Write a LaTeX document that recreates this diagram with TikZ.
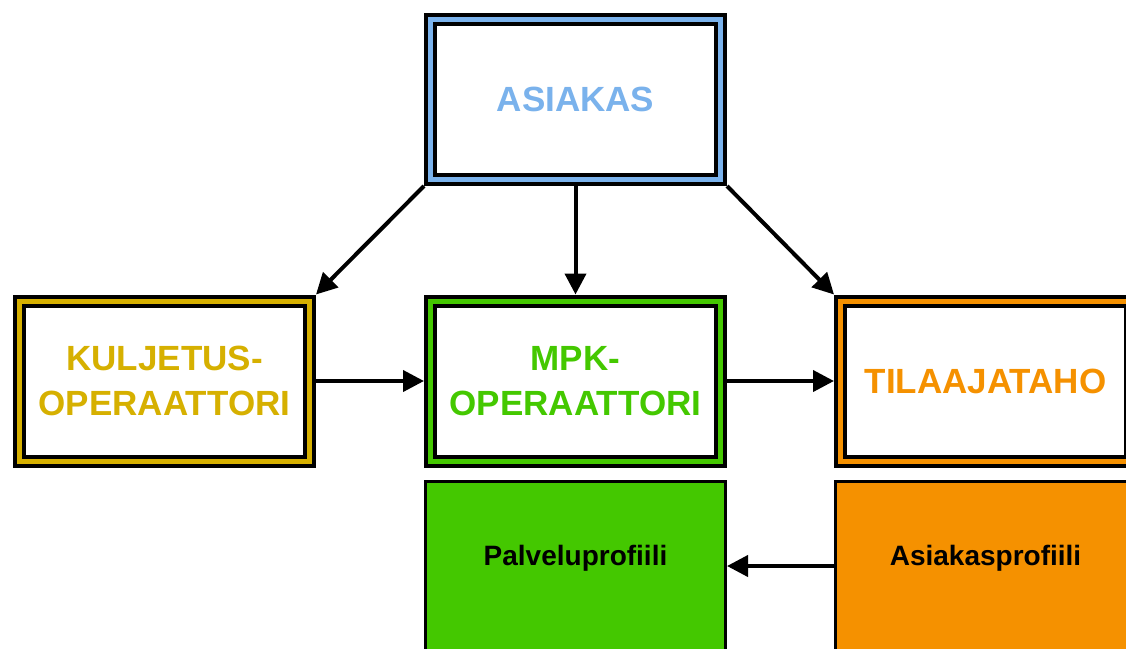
\documentclass[tikz,border=0pt]{standalone}
\usepackage{fontspec}
\setmainfont{Liberation Sans}
\usetikzlibrary{positioning,arrows.meta}
\definecolor{asiakasblue}{RGB}{122,178,236}
\definecolor{kuljgold}{RGB}{214,176,0}
\definecolor{mpkgreen}{RGB}{68,200,0}
\definecolor{tilorange}{RGB}{245,145,0}
\begin{document}
\begin{tikzpicture}[x=1pt,y=-1pt,
  mainbox/.style={draw=black, line width=4pt, double=#1, double distance=5pt, fill=white,
    minimum width=290pt, minimum height=160pt, inner sep=0pt,
    outer sep=6.5pt, text=#1, align=center, font=\bfseries\fontsize{35}{45}\selectfont},
  profilebox/.style={draw=black, line width=3pt, fill=#1,
    minimum width=300pt, minimum height=185pt, inner sep=0pt, outer sep=1.5pt},
  profiletext/.style={font=\bfseries\fontsize{28}{34}\selectfont},
  flow/.style={line width=4pt, -{Triangle[length=21pt,width=21pt]}}]
  \clip (0,0) rectangle (1126,648);
  \fill[white] (0,0) rectangle (1126,648);
  % top and middle row
  \node[mainbox=asiakasblue] (asiakas) at (575.5,99.5) {ASIAKAS};
  \node[mainbox=kuljgold] (kuljetus) at (164.5,381) {KULJETUS-\\OPERAATTORI};
  \node[mainbox=mpkgreen] (mpk) at (575.5,381) {MPK-\\OPERAATTORI};
  \node[mainbox=tilorange] (tilaaja) at (985.5,381) {TILAAJATAHO};
  % profiles
  \node[profilebox=mpkgreen, anchor=north] (palvelu) at (575.5,479.5) {};
  \node[profilebox=tilorange, anchor=north] (asprof) at (985.5,479.5) {};
  \node[profiletext] (palveluteksti) at (575.5,558) {Palveluprofiili};
  \node[profiletext] (asprofteksti) at (985.5,558) {Asiakasprofiili};
  % connectors
  \draw[flow] (asiakas.south west) -- (kuljetus.north east);
  \draw[flow] (asiakas.south) -- (mpk.north);
  \draw[flow] (asiakas.south east) -- (tilaaja.north west);
  \draw[flow] (kuljetus.east) -- (mpk.west);
  \draw[flow] (mpk.east) -- (tilaaja.west);
  \draw[flow] (asprof.west |- 0,566) -- (palvelu.east |- 0,566);
\end{tikzpicture}
\end{document}
